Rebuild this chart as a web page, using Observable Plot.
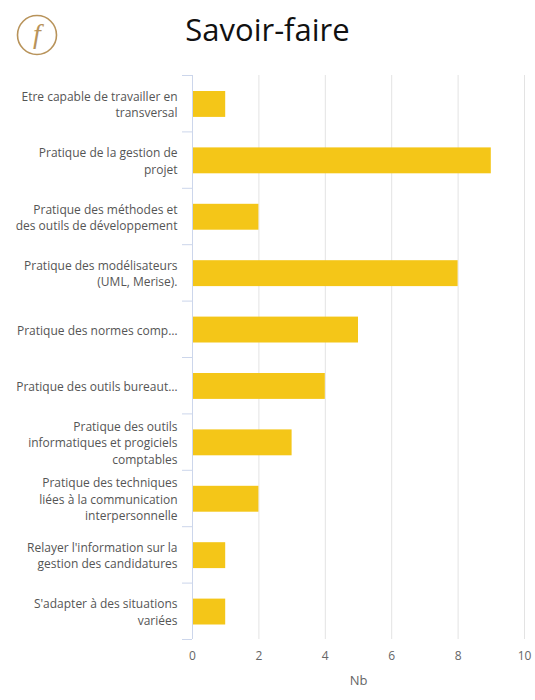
<!DOCTYPE html>
<html><head><meta charset="utf-8">
<script src="https://cdn.jsdelivr.net/npm/d3@7"></script>
<script src="https://cdn.jsdelivr.net/npm/@observablehq/plot@0.6"></script>
<style>
body{margin:0;background:#fff;font-family:"Open Sans",sans-serif;}
#wrap{position:relative;width:535px;height:700px;}
#header{position:relative;height:60px;}
#title{position:absolute;left:0;width:535px;top:8px;text-align:center;font-size:31px;color:#111;line-height:normal;}
#logo{position:absolute;left:15px;top:13px;}
</style></head><body>
<div id="wrap">
<div id="header">
<svg id="logo" width="44" height="44"><circle cx="22" cy="22" r="19.5" fill="none" stroke="#b8935a" stroke-width="1.6"/><text x="22" y="30" text-anchor="middle" font-family="Liberation Serif" font-style="italic" font-size="28" fill="#b8935a">f</text></svg>
<div id="title">Savoir-faire</div>
</div>
<div id="chart"></div>
</div>
<script>
const labels = [
  "Etre capable de travailler en\ntransversal",
  "Pratique de la gestion de\nprojet",
  "Pratique des méthodes et\ndes outils de développement",
  "Pratique des modélisateurs\n(UML, Merise).",
  "Pratique des normes comp…",
  "Pratique des outils bureaut…",
  "Pratique des outils\ninformatiques et progiciels\ncomptables",
  "Pratique des techniques\nliées à la communication\ninterpersonnelle",
  "Relayer l'information sur la\ngestion des candidatures",
  "S'adapter à des situations\nvariées"
];
const values = [1, 9, 2, 8, 5, 4, 3, 2, 1, 1];
const xTicks = [0, 2, 4, 6, 8, 10];
const xTitle = "Nb";

const data = labels.map((label, i) => ({i, label, value: values[i]}));
const n = labels.length;

const chart = Plot.plot({
  width: 535,
  height: 640,
  marginTop: 15,
  marginBottom: 61,
  marginLeft: 192,
  marginRight: 11,
  style: {fontFamily: "'Open Sans', sans-serif", background: "#fff"},
  x: {domain: [0, 10], axis: null},
  y: {domain: [0, n], reverse: true, axis: null},
  marks: [
    Plot.gridX(xTicks.slice(1), {stroke: "#e3e3e3", strokeOpacity: 1}),
    Plot.rect(data, {x1: 0, x2: "value", y1: "i", y2: d => d.i + 1, insetTop: 16, insetBottom: 14.5, fill: "#f4c618"}),
    Plot.ruleX([0], {stroke: "#ccd6eb"}),
    Plot.axisY({ticks: d3.range(n + 1), tickSize: 10, tickFormat: () => "", label: null, stroke: "#ccd6eb", strokeOpacity: 1}),
    Plot.axisY({ticks: d3.range(n).map(i => i + 0.5), tickSize: 0, tickPadding: 15, label: null, tickFormat: v => labels[Math.floor(v)], fontSize: 12, fill: "#555", lineHeight: 1.37}),
    Plot.axisX({ticks: xTicks, tickSize: 0, tickPadding: 12, fontSize: 12, fill: "#666", label: null}),
    Plot.text([xTitle], {frameAnchor: "bottom", lineAnchor: "middle", dy: 41, fontSize: 13, fill: "#666"})
  ]
});
document.getElementById("chart").appendChild(chart);
</script>
</body></html>
